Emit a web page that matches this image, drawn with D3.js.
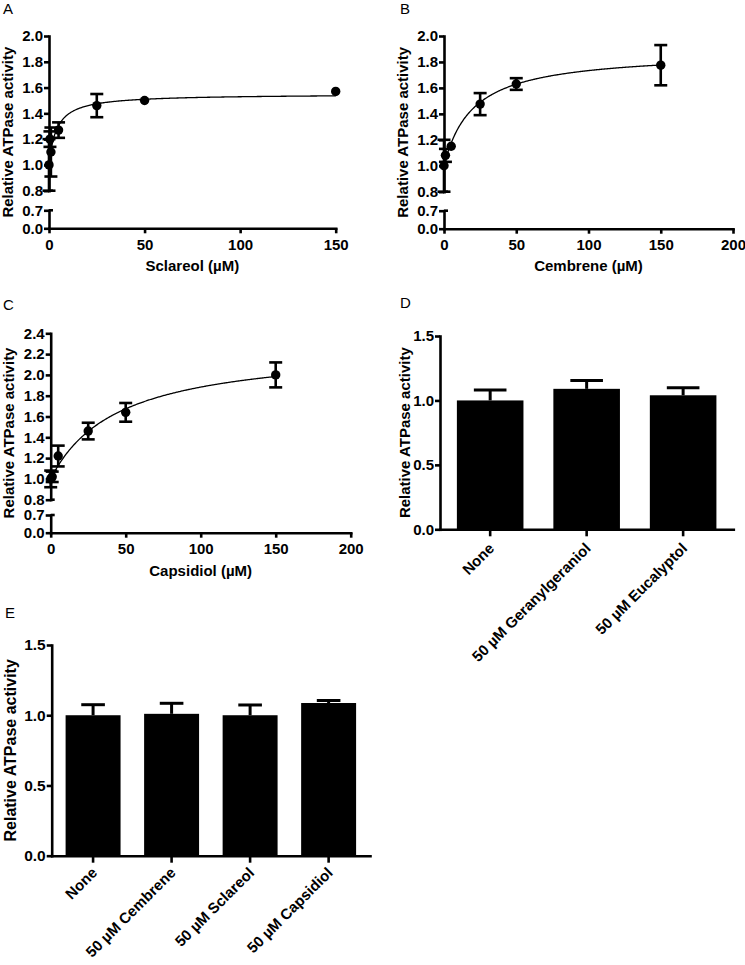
<!DOCTYPE html>
<html><head><meta charset="utf-8">
<script src="https://cdn.jsdelivr.net/npm/d3@7"></script>
<style>
body{margin:0;background:#fff;}
svg text{font-family:"Liberation Sans",Arial,Helvetica,sans-serif;}
</style></head><body>
<svg id="c" width="745" height="965"></svg>
<script>
// ---------- data ----------
const sclareolConc = [0, 0.5, 1, 5, 25, 50, 150];
const sclareolMean = [1.00, 1.20, 1.10, 1.27, 1.46, 1.50, 1.57];
const sclareolErr  = [0.20, 0.06, 0.19, 0.06, 0.09, 0.01, 0.01];
const sclareolFit  = {bmax: 0.55, kd: 4};   // fitted hyperbola above baseline 1.0

const cembreneConc = [0, 1, 5, 25, 50, 150];
const cembreneMean = [1.00, 1.08, 1.15, 1.475, 1.63, 1.775];
const cembreneErr  = [0.20, 0.05, 0.035, 0.085, 0.045, 0.155];
const cembreneFit  = {bmax: 0.88, kd: 20};

const capsidiolConc = [0, 1, 5, 25, 50, 150];
const capsidiolMean = [1.00, 1.02, 1.22, 1.46, 1.64, 2.00];
const capsidiolErr  = [0.08, 0.05, 0.10, 0.08, 0.09, 0.12];
const capsidiolFit  = {bmax: 1.28, kd: 45};

const dCategories = ["None", "50 µM Geranylgeraniol", "50 µM Eucalyptol"];
const dMean = [1.00, 1.09, 1.04];
const dErr  = [0.08, 0.065, 0.058];

const eCategories = ["None", "50 µM Cembrene", "50 µM Sclareol", "50 µM Capsidiol"];
const eMean = [1.00, 1.01, 1.00, 1.087];
const eErr  = [0.075, 0.075, 0.073, 0.018];

const yTicksAB = [0.8, 1.0, 1.2, 1.4, 1.6, 1.8, 2.0];
const yTicksC  = [0.8, 1.0, 1.2, 1.4, 1.6, 1.8, 2.0, 2.2, 2.4];
const yTicksLow = [0.0, 0.7];
const xTicksA = [0, 50, 100, 150];
const xTicksBC = [0, 50, 100, 150, 200];
const yTicksBar = [0.0, 0.5, 1.0, 1.5];
const yTitle = "Relative ATPase activity";

// ---------- drawing ----------
const svg = d3.select("#c");
const SW = 2.6;

function styleAxis(sel, fs) {
  sel.attr("font-size", null).attr("font-family", null);
  sel.selectAll(".domain").attr("stroke", "#000").attr("stroke-width", SW).attr("stroke-linecap", "square");
  sel.selectAll(".tick line").attr("stroke", "#000").attr("stroke-width", SW);
  sel.selectAll(".tick text").attr("fill", "#000").style("font-size", fs + "px").style("font-weight", "bold");
}

function letter(t, x, y) {
  svg.append("text").attr("x", x).attr("y", y).text(t)
    .style("font-size", "15px").style("font-weight", "normal").attr("fill", "#000");
}

function yLabel(x, y, fs) {
  svg.append("text").attr("transform", `translate(${x},${y}) rotate(-90)`)
    .attr("text-anchor", "middle").text(yTitle)
    .style("font-size", fs + "px").style("font-weight", "bold").attr("fill", "#000");
}

function xyPanel(p) {
  const g = svg.append("g");
  const x = d3.scaleLinear().domain(p.xDomain).range([p.left, p.right]);
  const yU = d3.scaleLinear().domain([0.8, p.yMax]).range([p.y08, p.yTop]);
  const yL = d3.scaleLinear().domain([0, 0.7]).range([p.y0, p.y07]);
  const y = v => v >= 0.75 ? yU(v) : yL(v);
  const fmt = d3.format(".1f");

  const a1 = g.append("g").attr("transform", `translate(${p.left},0)`)
    .call(d3.axisLeft(yU).tickValues(p.yTicks).tickSize(5).tickSizeOuter(0).tickPadding(1).tickFormat(fmt));
  styleAxis(a1, 15);
  const a2 = g.append("g").attr("transform", `translate(${p.left},0)`)
    .call(d3.axisLeft(yL).tickValues(yTicksLow).tickSize(5).tickSizeOuter(0).tickPadding(1).tickFormat(fmt));
  styleAxis(a2, 15);
  [yU(0.8), yL(0.7)].forEach(yy => {
    g.append("line").attr("x1", p.left).attr("x2", p.left + 4).attr("y1", yy).attr("y2", yy)
      .attr("stroke", "#000").attr("stroke-width", SW);
  });
  const ax = g.append("g").attr("transform", `translate(0,${p.y0})`)
    .call(d3.axisBottom(x).tickValues(p.xTicks).tickSize(5).tickSizeOuter(0).tickPadding(6));
  styleAxis(ax, 15);

  // fitted curve
  const xs = d3.range(0, 150.01, 0.5);
  const line = d3.line().x(d => x(d)).y(d => y(1 + p.fit.bmax * d / (p.fit.kd + d)));
  g.append("path").datum(xs).attr("d", line).attr("fill", "none").attr("stroke", "#000").attr("stroke-width", 1.3);

  // error bars + points
  const R = 4.7;
  const data = p.conc.map((c, i) => ({c, m: p.mean[i], e: p.err[i]}));
  const cw = 6.5;
  const eb = g.append("g").attr("stroke", "#000").attr("stroke-width", SW);
  data.forEach(d => {
    const cx = x(d.c), y1 = y(d.m - d.e), y2 = y(d.m + d.e);
    if (Math.abs(y1 - y2) / 2 <= R) return; // hidden inside the symbol
    eb.append("line").attr("x1", cx).attr("x2", cx).attr("y1", y1).attr("y2", y2);
    eb.append("line").attr("x1", cx - cw).attr("x2", cx + cw).attr("y1", y1).attr("y2", y1);
    eb.append("line").attr("x1", cx - cw).attr("x2", cx + cw).attr("y1", y2).attr("y2", y2);
  });
  g.selectAll("circle.pt").data(data).join("circle").attr("class", "pt")
    .attr("cx", d => x(d.c)).attr("cy", d => y(d.m)).attr("r", R).attr("fill", "#000");

  svg.append("text").attr("x", (p.left + p.right) / 2).attr("y", p.titleY)
    .attr("text-anchor", "middle").text(p.title)
    .style("font-size", "15px").style("font-weight", "bold").attr("fill", "#000");
  yLabel(p.yLabX, (p.yTop + p.y0) / 2, 15);
}

function barPanel(p) {
  const g = svg.append("g");
  const x = d3.scaleBand().domain(p.cats).range([p.left, p.right]).paddingInner(p.pi).paddingOuter(p.po);
  const y = d3.scaleLinear().domain([0, 1.5]).range([p.y0, p.yTop]);
  const data = p.cats.map((c, i) => ({c, m: p.mean[i], e: p.err[i]}));
  const bw = x.bandwidth();

  g.selectAll("rect").data(data).join("rect")
    .attr("x", d => x(d.c)).attr("width", bw)
    .attr("y", d => y(d.m)).attr("height", d => y(0) - y(d.m)).attr("fill", "#000");
  const eb = g.append("g").attr("stroke", "#000").attr("stroke-width", 3);
  const cw = bw * p.capFrac / 2;
  data.forEach(d => {
    const cx = x(d.c) + bw / 2;
    eb.append("line").attr("x1", cx).attr("x2", cx).attr("y1", y(d.m)).attr("y2", y(d.m + d.e));
    eb.append("line").attr("x1", cx - cw).attr("x2", cx + cw).attr("y1", y(d.m + d.e)).attr("y2", y(d.m + d.e));
  });

  const ay = g.append("g").attr("transform", `translate(${p.left},0)`)
    .call(d3.axisLeft(y).tickValues(yTicksBar).tickSize(5).tickSizeOuter(0).tickPadding(1).tickFormat(d3.format(".1f")));
  styleAxis(ay, p.tickFs);
  const axb = g.append("g").attr("transform", `translate(0,${p.y0})`)
    .call(d3.axisBottom(x).tickSize(7).tickSizeOuter(0));
  styleAxis(axb, p.labFs);
  axb.selectAll(".tick text").attr("y", 0).attr("dy", 0)
    .attr("transform", `translate(5,${p.labDy}) rotate(-45)`).style("text-anchor", "end");

  yLabel(p.yLabX, (p.yTop + p.y0) / 2, p.titleFs);
}

xyPanel({left: 49, right: 335.7, xDomain: [0, 150], yMax: 2.0, yTop: 36, y08: 190.7, y07: 210.3, y0: 228.3,
  yTicks: yTicksAB, xTicks: xTicksA, conc: sclareolConc, mean: sclareolMean, err: sclareolErr, fit: sclareolFit,
  title: "Sclareol (µM)", titleY: 271, yLabX: 13});
xyPanel({left: 444, right: 733, xDomain: [0, 200], yMax: 2.0, yTop: 36, y08: 191.7, y07: 210.7, y0: 228.7,
  yTicks: yTicksAB, xTicks: xTicksBC, conc: cembreneConc, mean: cembreneMean, err: cembreneErr, fit: cembreneFit,
  title: "Cembrene (µM)", titleY: 271, yLabX: 408});
xyPanel({left: 50.7, right: 350.7, xDomain: [0, 200], yMax: 2.4, yTop: 333.3, y08: 499.7, y07: 515, y0: 532.7,
  yTicks: yTicksC, xTicks: xTicksBC, conc: capsidiolConc, mean: capsidiolMean, err: capsidiolErr, fit: capsidiolFit,
  title: "Capsidiol (µM)", titleY: 576, yLabX: 14});
barPanel({left: 440, right: 733.3, y0: 529.3, yTop: 336, cats: dCategories, mean: dMean, err: dErr,
  pi: 0.31, po: 0.175, capFrac: 0.49, tickFs: 15, labFs: 15, labDy: 20, titleFs: 15, yLabX: 410});
barPanel({left: 51.7, right: 370, y0: 855.7, yTop: 645, cats: eCategories, mean: eMean, err: eErr,
  pi: 0.30, po: 0.177, capFrac: 0.43, tickFs: 15.5, labFs: 15, labDy: 18, titleFs: 16, yLabX: 15.5});

letter("A", 3, 14);
letter("B", 400, 13.5);
letter("C", 3, 310);
letter("D", 400, 308);
letter("E", 5, 618);
</script>
</body></html>
